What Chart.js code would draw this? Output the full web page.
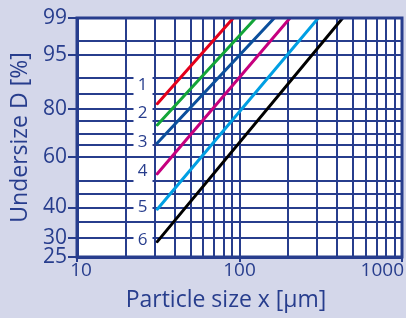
<!DOCTYPE html>
<html>
<head>
<meta charset="utf-8">
<script src="https://cdn.jsdelivr.net/npm/chart.js@4.4.1/dist/chart.umd.min.js"></script>
<style>
  html, body { margin: 0; padding: 0; background: #d4d7ea; }
  #wrap { width: 406px; height: 318px; }
</style>
</head>
<body>
<div id="wrap"><canvas id="myChart" width="406" height="318"></canvas></div>
<script>
// curve ids and values
var curveIds = ['1', '2', '3', '4', '5', '6'];
var startSize = [31.2, 31.2, 31.2, 31.2, 31.2, 31.2];      // µm
var startUndersize = [81.8, 73.6, 66.0, 53.0, 39.4, 29.1]; // %
var endSize = [91.6, 125.8, 163.8, 204.6, 305.5, 431.5];   // µm
var endUndersize = [99, 99, 99, 99, 99, 99];               // %
var idSize = [25.3, 25.3, 25.3, 25.3, 25.3, 25.3];
var idUndersize = [88, 78.3, 66.6, 54, 40.3, 29.6];

var curveColors = ['#e3001b', '#13a538', '#0b4f9c', '#c6007e', '#009fe3', '#000000'];

var yGrid = [25, 30, 35, 40, 45, 50, 60, 65, 70, 75, 80, 85, 90, 95, 97, 99];
var yLabels = [25, 30, 40, 60, 80, 95, 99];
var xGrid = [10, 20, 30, 40, 50, 60, 70, 80, 90, 100, 200, 300, 400, 500, 600, 700, 800, 900, 1000];
var xLabels = [10, 100, 1000];

var navy = '#273d8d';
var font = "'Open Sans', sans-serif";

// Rosin-Rammler (RRSB) transform of the undersize axis
function rr(d) {
    return Math.log(-Math.log(1 - d / 100));
}

var datasets = curveIds.map(function (id, i) {
    return {
        label: id,
        data: [
            { x: startSize[i], y: rr(startUndersize[i]) },
            { x: endSize[i], y: rr(endUndersize[i]) }
        ],
        borderColor: curveColors[i],
        borderWidth: 3,
        borderCapStyle: 'round',
        pointRadius: 0,
        fill: false
    };
});

var decor = {
    id: 'decor',
    beforeDraw: function (chart) {
        var ctx = chart.ctx, a = chart.chartArea;
        ctx.save();
        ctx.fillStyle = '#d4d7ea';
        ctx.fillRect(0, 0, chart.width, chart.height);
        ctx.fillStyle = '#ffffff';
        ctx.fillRect(a.left, a.top, a.right - a.left, a.bottom - a.top);
        ctx.restore();
    },
    afterDatasetsDraw: function (chart) {
        var ctx = chart.ctx, a = chart.chartArea;
        var xs = chart.scales.x, ys = chart.scales.y;
        ctx.save();
        ctx.font = '17px ' + font;
        ctx.textAlign = 'center';
        ctx.textBaseline = 'middle';
        curveIds.forEach(function (id, i) {
            var px = xs.getPixelForValue(idSize[i]);
            var py = ys.getPixelForValue(rr(idUndersize[i]));
            ctx.fillStyle = '#ffffff';
            ctx.fillRect(px - 9, py - 11, 19, 22);
            ctx.fillStyle = navy;
            ctx.fillText(id, px, py);
        });
        ctx.strokeStyle = navy;
        ctx.lineWidth = 3;
        ctx.strokeRect(a.left, a.top, a.right - a.left, a.bottom - a.top);
        ctx.restore();
    },
    afterDraw: function (chart) {
        var ctx = chart.ctx, a = chart.chartArea;
        var xs = chart.scales.x;
        ctx.save();
        ctx.fillStyle = navy;
        ctx.font = '19px ' + font;
        ctx.textBaseline = 'top';
        xLabels.forEach(function (v, i) {
            var px = xs.getPixelForValue(v);
            if (i == 0) {
                ctx.textAlign = 'center';
                px += 4;
            } else if (i == xLabels.length - 1) {
                ctx.textAlign = 'right';
                px += 2;
            } else {
                ctx.textAlign = 'center';
            }
            ctx.fillText(String(v), px, a.bottom + 4);
        });
        ctx.font = '23px ' + font;
        ctx.textAlign = 'center';
        ctx.textBaseline = 'middle';
        ctx.fillText('Particle size x [µm]', 226, 300);
        ctx.restore();
    }
};

var ctx = document.getElementById('myChart');
var chart = new Chart(ctx, {
    type: 'line',
    data: { datasets: datasets },
    plugins: [decor],
    options: {
        responsive: false,
        animation: false,
        layout: { padding: { top: 18, right: 4, left: 0, bottom: 0 } },
        plugins: {
            legend: { display: false },
            tooltip: { enabled: false }
        },
        scales: {
            x: {
                type: 'logarithmic',
                min: 10,
                max: 1000,
                afterBuildTicks: function (scale) {
                    scale.ticks = xGrid.map(function (v) { return { value: v }; });
                },
                afterFit: function (scale) {
                    scale.height = 61;
                    scale.paddingLeft = 0;
                    scale.paddingRight = 0;
                },
                ticks: { display: false },
                grid: {
                    color: navy,
                    lineWidth: 2,
                    drawTicks: true,
                    tickLength: 5,
                    tickColor: function (c) {
                        return xLabels.indexOf(xGrid[c.index]) >= 0 ? navy : 'rgba(0,0,0,0)';
                    }
                },
                border: { color: navy, width: 3 }
            },
            y: {
                type: 'linear',
                min: rr(25),
                max: rr(99),
                afterBuildTicks: function (scale) {
                    scale.ticks = yGrid.map(function (d) { return { value: rr(d) }; });
                },
                afterFit: function (scale) {
                    scale.width = 77;
                    scale.paddingTop = 0;
                    scale.paddingBottom = 0;
                },
                ticks: {
                    autoSkip: false,
                    padding: 1,
                    color: navy,
                    font: { family: font, size: 21 },
                    callback: function (v, i) {
                        return yLabels.indexOf(yGrid[i]) >= 0 ? String(yGrid[i]) : '';
                    }
                },
                grid: {
                    color: navy,
                    lineWidth: 2,
                    tickLength: 9,
                    tickColor: function (c) {
                        return yLabels.indexOf(yGrid[c.index]) >= 0 ? navy : 'rgba(0,0,0,0)';
                    }
                },
                border: { color: navy, width: 3 },
                title: {
                    display: true,
                    text: 'Undersize D [%]',
                    color: navy,
                    font: { family: font, size: 23 },
                    padding: { top: 7, bottom: 0 }
                }
            }
        }
    }
});
</script>
</body>
</html>
